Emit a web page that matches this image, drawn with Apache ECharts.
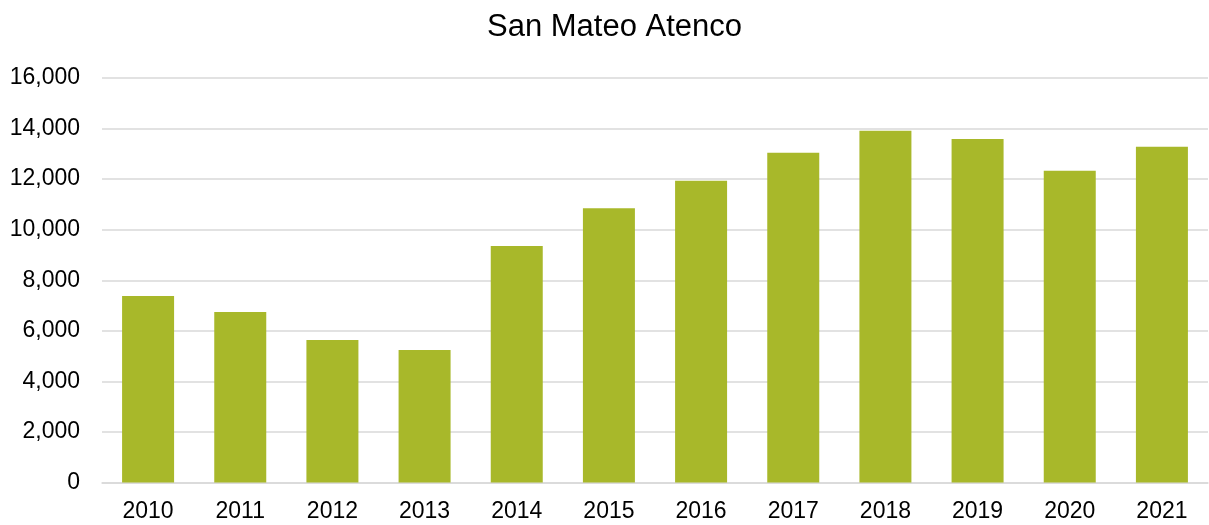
<!DOCTYPE html>
<html>
<head>
<meta charset="utf-8">
<script src="https://cdn.jsdelivr.net/npm/echarts@6/dist/echarts.min.js"></script>
<style>
  html, body { margin: 0; padding: 0; background: #fff; }
  #main { width: 1209px; height: 525px; }
</style>
</head>
<body>
<div id="main"></div>
<script>
// datos
var years = ['2010', '2011', '2012', '2013', '2014', '2015', '2016', '2017', '2018', '2019', '2020', '2021'];
var values = [7380, 6745, 5640, 5240, 9355, 10845, 11940, 13045, 13915, 13590, 12335, 13285];
var yTicks = [0, 2000, 4000, 6000, 8000, 10000, 12000, 14000, 16000];

var myChart = echarts.init(document.getElementById('main'));
var font = 'Liberation Sans, Arial, sans-serif';

var option = {
  animation: false,
  title: {
    text: 'San Mateo Atenco',
    left: 482,
    top: 7,
    textStyle: { fontFamily: font, fontSize: 31, fontWeight: 'normal', color: '#000' }
  },
  grid: { left: 102, right: 1, top: 78, bottom: 42.5 },
  xAxis: {
    type: 'category',
    data: years,
    axisTick: { show: false },
    axisLine: { lineStyle: { color: '#d9d9d9', width: 1.5 } },
    axisLabel: { color: '#000', fontFamily: font, fontSize: 23, margin: 18 }
  },
  yAxis: {
    type: 'value',
    min: yTicks[0],
    max: yTicks[yTicks.length - 1],
    interval: 2000,
    axisLine: { show: false },
    axisTick: { show: false },
    splitLine: { lineStyle: { color: '#d9d9d9', width: 1.5 } },
    axisLabel: {
      color: '#000', fontFamily: font, fontSize: 23, margin: 22,
      formatter: function (v) { return v.toLocaleString('en-US'); }
    }
  },
  series: [{
    type: 'bar',
    data: values,
    barWidth: 52,
    itemStyle: { color: '#A8B82A' }
  }]
};
myChart.setOption(option);
</script>
</body>
</html>
